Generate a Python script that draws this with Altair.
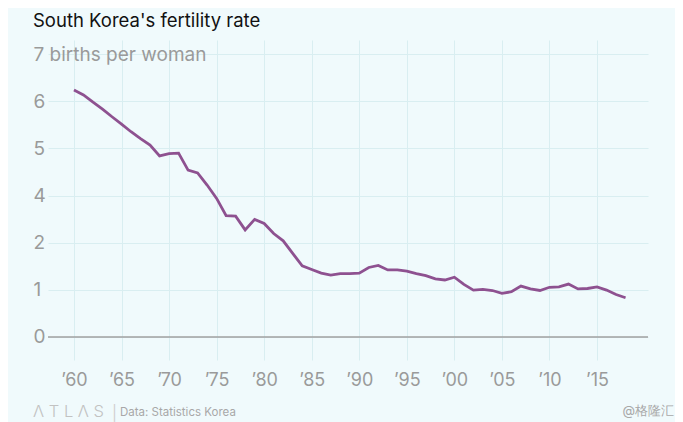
import json
import altair as alt
import pandas as pd

# ---- data ----
years = list(range(1960, 2019))
fertility = [
    6.11, 5.99, 5.81, 5.64, 5.45, 5.27, 5.08, 4.91, 4.75, 4.48,
    4.54, 4.55, 4.13, 4.06, 3.76, 3.43, 3.00, 2.99, 2.65, 2.91,
    2.81, 2.56, 2.38, 2.07, 1.76, 1.67, 1.58, 1.53, 1.57, 1.57,
    1.58, 1.72, 1.77, 1.66, 1.66, 1.63, 1.57, 1.52, 1.44, 1.41,
    1.48, 1.30, 1.16, 1.18, 1.15, 1.08, 1.12, 1.26, 1.19, 1.15,
    1.23, 1.24, 1.31, 1.19, 1.20, 1.24, 1.16, 1.05, 0.97,
]
x_tick_years = [1960, 1965, 1970, 1975, 1980, 1985, 1990, 1995, 2000, 2005, 2010, 2015]
x_tick_labels = ["\u201960", "\u201965", "\u201970", "\u201975", "\u201980", "\u201985",
                 "\u201990", "\u201995", "\u201900", "\u201905", "\u201910", "\u201915"]
y_tick_values = [0, 1.1667, 2.3333, 3.5, 4.6667, 5.8333, 7]
y_tick_labels = ["0", "1", "2", "4", "5", "6", "7 births per woman"]

title_text = "South Korea's fertility rate"
source_text = "Data: Statistics Korea"
logo_text = "\u039b T L \u039b S"
watermark_text = "@格隆汇"

df = pd.DataFrame({"year": years, "rate": fertility})

FONT = "Inter"
GRAY = "#9a9a9a"
BG = "#f0fafc"

x_scale = alt.Scale(domain=[1957.27, 2020.36], nice=False, zero=False)
y_scale = alt.Scale(domain=[-0.57, 7.35], nice=False, zero=False)

x_label_expr = f"{json.dumps(x_tick_labels)}[round((datum.value - 1960) / 5)]"
y_label_expr = f"{json.dumps(y_tick_labels)}[round(datum.value * 6 / 7)]"

line = alt.Chart(df).mark_line(color="#8e5190", strokeWidth=2.8).encode(
    x=alt.X("year:Q", scale=x_scale, axis=alt.Axis(
        values=x_tick_years, labelExpr=x_label_expr, title=None,
        grid=True, gridColor="#d9eef1", gridWidth=1, domain=False, ticks=False,
        labelFont=FONT, labelFontSize=18, labelColor=GRAY, labelPadding=11,
        labelOverlap=False)),
    y=alt.Y("rate:Q", scale=y_scale, axis=alt.Axis(
        values=y_tick_values, labelExpr=y_label_expr, title=None,
        grid=True, gridColor="#d9eef1", gridWidth=1, domain=False, ticks=False,
        tickSize=0, labelAlign="left", labelPadding=15, labelBaseline="middle",
        labelFont=FONT, labelFontSize=19, labelColor=GRAY, labelOverlap=False,
        labelBound=False)),
)

zero_rule = alt.Chart(pd.DataFrame({"z": [0]})).mark_rule(color="#a0a0a0", strokeWidth=1.5).encode(
    y=alt.Y("z:Q", scale=y_scale),
)

def text_layer(txt, x, y, size, color, align="left", weight="normal"):
    return alt.Chart(pd.DataFrame({"t": [txt]})).mark_text(
        align=align, baseline="alphabetic", font=FONT, fontSize=size,
        color=color, fontWeight=weight,
    ).encode(x=alt.value(x), y=alt.value(y), text="t:N")

title = text_layer(title_text, -15, -13, 18.5, "#111111")
logo = text_layer(logo_text, -15, 377, 16.5, "#c2c2c2", weight=300)
sep = text_layer("|", 64, 378, 15, "#d0d0d0")
source = text_layer(source_text, 72, 376, 11.5, "#a8a8a8")
mark = text_layer(watermark_text, 626, 375, 13, "#a8a8a8", align="right")

chart = alt.layer(line, zero_rule, title, logo, sep, source, mark).properties(
    width=600, height=320,
    autosize=alt.AutoSizeParams(type="none"),
    padding={"left": 40, "top": 32, "right": 27, "bottom": 62},
    background=BG,
).configure_view(stroke=None)

chart.save("out.html", embed_options={"renderer": "svg", "actions": False})
